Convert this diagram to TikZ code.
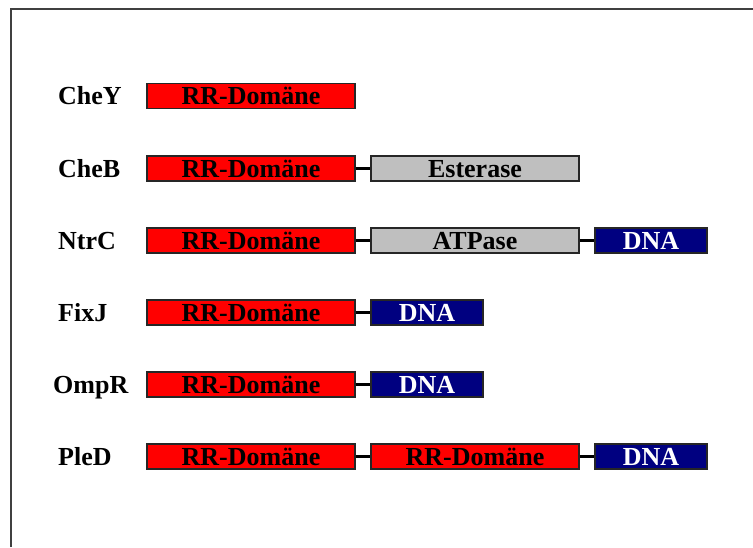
\documentclass[tikz,border=0pt]{standalone}
\usepackage{fontspec}
\setmainfont{Liberation Serif}
\begin{document}
\begin{tikzpicture}[x=1pt,y=-1pt,
  dombox/.style={draw=black!85, line width=1.2pt, inner sep=0pt,
    minimum height=25pt, text height=17.7pt, text depth=0pt,
    font=\fontsize{26}{30}\selectfont\bfseries},
  rr/.style={dombox, fill=red, minimum width=208pt},
  enzyme/.style={dombox, fill=black!25, minimum width=208pt},
  dna/.style={dombox, fill={rgb,255:red,0;green,0;blue,128}, text=white, minimum width=112pt},
  protein/.style={anchor=west, inner sep=0pt, text height=17.7pt, text depth=0pt,
    font=\fontsize{26}{30}\selectfont\bfseries},
  linker/.style={line width=3pt, black}
]
\useasboundingbox (0,0) rectangle (753,547);

% frame
\draw[line width=2pt, black!75] (10.5,547) -- (10.5,9) -- (753,9);

% CheY
\node[protein] (cheY) at (58,96) {CheY};
\node[rr] (cheY1) at (251,96) {RR-Domäne};

% CheB
\node[protein] (cheB) at (58,168.5) {CheB};
\node[rr] (cheB1) at (251,168.5) {RR-Domäne};
\node[enzyme] (cheB2) at (475,168.5) {Esterase};
\draw[linker] (cheB1.east) -- (cheB2.west);

% NtrC
\node[protein] (ntrC) at (58,240.5) {NtrC};
\node[rr] (ntrC1) at (251,240.5) {RR-Domäne};
\node[enzyme] (ntrC2) at (475,240.5) {ATPase};
\node[dna] (ntrC3) at (651,240.5) {DNA};
\draw[linker] (ntrC1.east) -- (ntrC2.west);
\draw[linker] (ntrC2.east) -- (ntrC3.west);

% FixJ
\node[protein] (fixJ) at (58,312.5) {FixJ};
\node[rr] (fixJ1) at (251,312.5) {RR-Domäne};
\node[dna] (fixJ2) at (427,312.5) {DNA};
\draw[linker] (fixJ1.east) -- (fixJ2.west);

% OmpR
\node[protein] (ompR) at (53,384.5) {OmpR};
\node[rr] (ompR1) at (251,384.5) {RR-Domäne};
\node[dna] (ompR2) at (427,384.5) {DNA};
\draw[linker] (ompR1.east) -- (ompR2.west);

% PleD
\node[protein] (pleD) at (58,456.5) {PleD};
\node[rr] (pleD1) at (251,456.5) {RR-Domäne};
\node[rr] (pleD2) at (475,456.5) {RR-Domäne};
\node[dna] (pleD3) at (651,456.5) {DNA};
\draw[linker] (pleD1.east) -- (pleD2.west);
\draw[linker] (pleD2.east) -- (pleD3.west);
\end{tikzpicture}
\end{document}
